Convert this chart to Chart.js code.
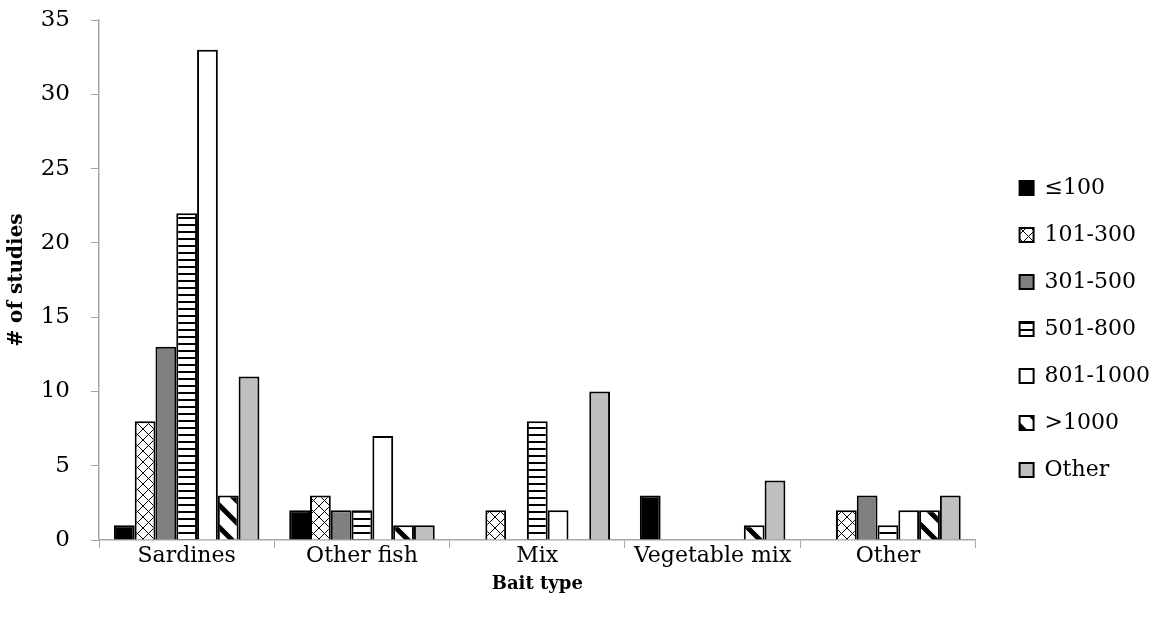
<!DOCTYPE html>
<html>
<head>
<meta charset="utf-8">
<script src="https://cdn.jsdelivr.net/npm/chart.js@4.4.1/dist/chart.umd.min.js"></script>
<style>
  html, body { margin: 0; padding: 0; background: #fff; }
  #wrap { width: 1160px; height: 630px; }
</style>
</head>
<body>
<div id="wrap"><canvas id="baitChart" width="1160" height="630"></canvas></div>
<script>
// Data
const categories = ["Sardines", "Other fish", "Mix", "Vegetable mix", "Other"];
const seriesNames = ["\u2264100", "101-300", "301-500", "501-800", "801-1000", ">1000", "Other"];
const le100     = [1, 2, 0, 3, 0];
const s101_300  = [8, 3, 2, 0, 2];
const s301_500  = [13, 2, 0, 0, 3];
const s501_800  = [22, 2, 8, 0, 1];
const s801_1000 = [33, 7, 2, 0, 2];
const gt1000    = [3, 1, 0, 1, 2];
const otherSize = [11, 1, 10, 4, 3];
const yTicks = [0, 5, 10, 15, 20, 25, 30, 35];

const seriesValues = [le100, s101_300, s301_500, s501_800, s801_1000, gt1000, otherSize];

// Fill patterns (black & white style)
function makePattern(size, draw) {
    const c = document.createElement("canvas");
    c.width = size; c.height = size;
    const g = c.getContext("2d");
    g.fillStyle = "#fff";
    g.fillRect(0, 0, size, size);
    draw(g, size);
    return g.createPattern(c, "repeat");
}

const crossPattern = makePattern(11, (g, s) => {
    g.fillStyle = "#000";
    for (let i = 0; i < s; i++) {
        g.fillRect(i, i, 1, 1);
        g.fillRect(s - 1 - i, i, 1, 1);
    }
});
const hLinePattern = makePattern(7, (g, s) => {
    g.fillStyle = "#000";
    g.fillRect(0, 0, s, 2);
});
const diagPattern = makePattern(22, (g, s) => {
    g.strokeStyle = "#000";
    g.lineWidth = 5;
    g.beginPath();
    g.moveTo(-s, -s); g.lineTo(2 * s, 2 * s);
    g.moveTo(0, -s); g.lineTo(2 * s, s);
    g.moveTo(-s, 0); g.lineTo(s, 2 * s);
    g.stroke();
});

const fills = ["#000000", crossPattern, "#808080", hLinePattern, "#ffffff", diagPattern, "#bfbfbf"];

const datasets = seriesNames.map((name, i) => ({
    label: name,
    data: seriesValues[i],
    backgroundColor: fills[i],
    borderColor: "#000",
    borderWidth: 2,
    barPercentage: 1.0,
    categoryPercentage: 0.83
}));

const axisGray = "#a6a6a6";
const serif = "'DejaVu Serif', serif";

new Chart(document.getElementById("baitChart"), {
    type: "bar",
    data: { labels: categories, datasets: datasets },
    options: {
        responsive: false,
        devicePixelRatio: 1,
        animation: false,
        layout: { padding: { top: 20, right: 0, left: 3, bottom: 35 } },
        plugins: {
            tooltip: { enabled: false },
            legend: {
                position: "right",
                // empty title only pushes the legend items down a bit
                title: { display: true, text: " ", font: { size: 10, lineHeight: 1 }, padding: { top: 0, bottom: 33 } },
                labels: {
                    font: { family: serif, size: 22 },
                    color: "#000",
                    boxWidth: 14,
                    boxHeight: 14,
                    padding: 25
                }
            }
        },
        scales: {
            x: {
                grid: { offset: true, drawOnChartArea: false, drawTicks: true, tickLength: 8, color: axisGray },
                border: { color: axisGray, width: 1.5 },
                ticks: { font: { family: serif, size: 22 }, color: "#000", padding: -5 },
                title: { display: true, text: "Bait type", font: { family: serif, size: 18, weight: "bold" }, color: "#000", padding: { top: 9, bottom: 0 } }
            },
            y: {
                min: 0,
                max: 35,
                afterBuildTicks: axis => { axis.ticks = yTicks.map(v => ({ value: v })); },
                afterFit: s => { s.width = 96; s.paddingTop = 0; s.paddingBottom = 0; },
                grid: { drawOnChartArea: false, drawTicks: true, tickLength: 8, color: axisGray },
                border: { color: axisGray, width: 1.5 },
                ticks: { font: { family: serif, size: 23 }, color: "#000", padding: 21 },
                title: { display: true, text: "# of studies", font: { family: serif, size: 20, weight: "bold" }, color: "#000", padding: { top: 2, bottom: 0 } }
            },
            // blank spacer between the plot and the legend
            gap: {
                position: "right",
                display: true,
                grid: { display: false },
                border: { display: false },
                ticks: { display: false },
                afterFit: s => { s.width = 19; }
            }
        }
    }
});
</script>
</body>
</html>
